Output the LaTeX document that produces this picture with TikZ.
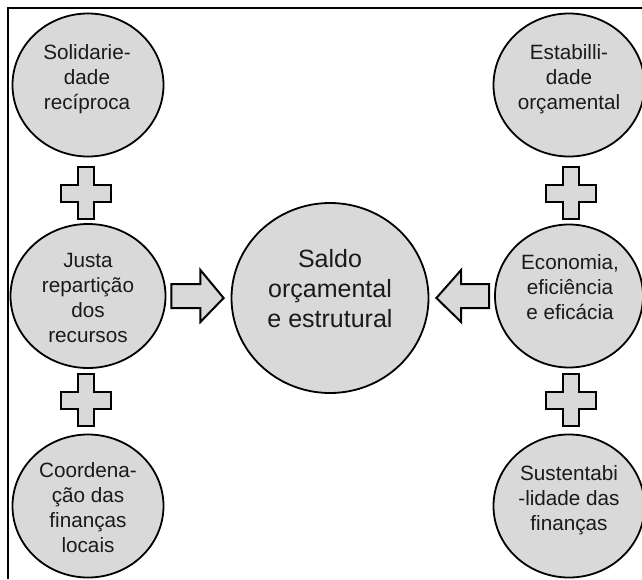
\documentclass[tikz,border=0pt]{standalone}
\usepackage{fontspec}
\setmainfont{Liberation Sans}
\usetikzlibrary{shapes.geometric,calc}
\definecolor{shade}{HTML}{D9D9D9}
\definecolor{ink}{HTML}{1A1A1A}
\tikzset{
  bubble/.style={ellipse,draw=black,fill=shade,line width=1.8pt,inner sep=0pt,
    minimum width=151pt,minimum height=143pt},
  bigbubble/.style={bubble,minimum width=197pt,minimum height=190pt},
  smalltxt/.style={align=center,text=ink,inner sep=0pt,font=\fontsize{20.7}{25}\selectfont},
  bigtxt/.style={align=center,text=ink,inner sep=0pt,font=\fontsize{25}{30}\selectfont},
  shapeline/.style={draw=black,fill=shade,line width=2pt,line join=miter},
  plussign/.pic={\path[shapeline] (-8,-26) -- (8,-26) -- (8,-8.5) -- (25,-8.5) -- (25,8.5)
     -- (8,8.5) -- (8,26) -- (-8,26) -- (-8,8.5) -- (-25,8.5) -- (-25,-8.5) -- (-8,-8.5) -- cycle;},
  frameline/.style={line width=2pt,draw=black}
}
\begin{document}
\begin{tikzpicture}[x=1pt,y=-1pt]
\useasboundingbox (0,0) rectangle (642,579);
% frame
\draw[frameline] (7.7,579) -- (7.7,8.3) -- (642,8.3);
% circles
\node[bubble] (c1) at (88,85) {};
\node[bubble,minimum width=155pt,minimum height=144pt] (c2) at (88,296) {};
\node[bubble] (c3) at (88,506) {};
\node[bubble] (c4) at (569,85) {};
\node[bubble,minimum width=148pt] (c5) at (569,296) {};
\node[bubble] (c6) at (569,506) {};
\node[bigbubble] (cc) at (330,298) {};
% texts
\node[smalltxt] (t1) at (87,79.6) {Solidarie-\\dade\\recíproca};
\node[smalltxt] (t2) at (88,297.9) {Justa\\repartição\\dos\\recursos};
\node[smalltxt] (t3) at (88,507.7) {Coordena-\\ção das\\finanças\\locais};
\node[smalltxt] (t4) at (569,79.5) {Estabilli-\\dade\\orçamental};
\node[smalltxt] (t5) at (570,287) {Economia,\\eficiência\\e eficácia};
\node[smalltxt] (t6) at (569,500) {Sustentabi\\-lidade das\\finanças};
\node[bigtxt] (tc) at (330,289) {Saldo\\orçamental\\e estrutural};
% plus signs
\pic at (86,193) {plussign};
\pic at (86,400) {plussign};
\pic at (571,193) {plussign};
\pic at (571,400) {plussign};
% block arrows
\coordinate (a1s) at ($(c2.east)+(5,0)$);
\coordinate (a1t) at ($(cc.west)+(-7,0)$);
\path[shapeline] ($(a1s)+(0,-12)$) -- ($(a1s)+(29,-12)$) -- ($(a1s)+(29,-26)$) -- (a1t)
  -- ($(a1s)+(29,26)$) -- ($(a1s)+(29,12)$) -- ($(a1s)+(0,12)$) -- cycle;
\coordinate (a2s) at ($(c5.west)+(-5,0)$);
\coordinate (a2t) at ($(cc.east)+(7,0)$);
\path[shapeline] ($(a2s)+(0,-12)$) -- ($(a2s)+(-28,-12)$) -- ($(a2s)+(-28,-26)$) -- (a2t)
  -- ($(a2s)+(-28,26)$) -- ($(a2s)+(-28,12)$) -- ($(a2s)+(0,12)$) -- cycle;
\end{tikzpicture}
\end{document}
